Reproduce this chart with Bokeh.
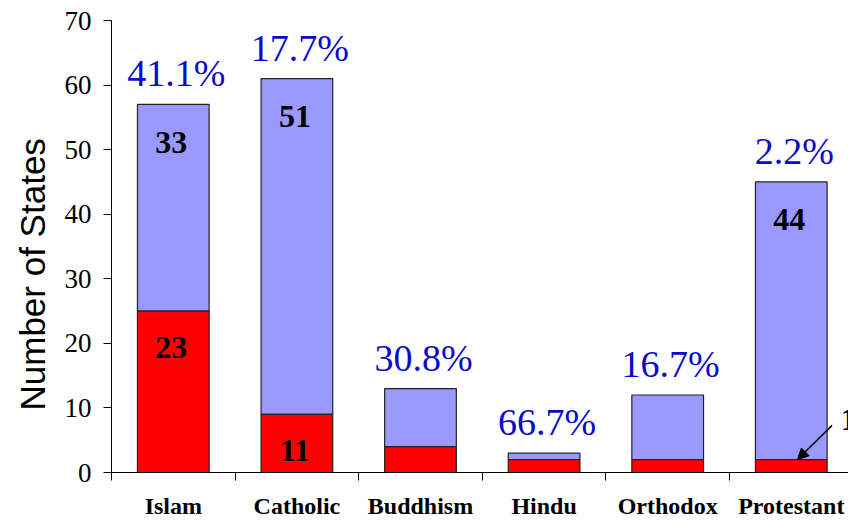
from bokeh.plotting import figure
from bokeh.models import (ColumnDataSource, FixedTicker, LinearAxis, Range1d,
                          Arrow, NormalHead, Title)
from bokeh.core.properties import value
from bokeh.embed import file_html
from bokeh.resources import INLINE

categories = ["Islam", "Catholic", "Buddhism", "Hindu", "Orthodox", "Protestant"]
red_vals = [25, 9, 4, 2, 2, 2]
total_vals = [57, 61, 13, 3, 12, 45]
pct_labels = ["41.1%", "17.7%", "30.8%", "66.7%", "16.7%", "2.2%"]
top_labels = ["33", "51", "", "", "", "44"]
red_labels = ["23", "11", "", "", "", ""]
callout_label = "1"
callout_index = 5
y_ticks = [0, 10, 20, 30, 40, 50, 60, 70]

n = len(categories)
centers = [i + 0.5 for i in range(n)]
src = ColumnDataSource(dict(
    x=centers, red=red_vals, total=total_vals, zero=[0] * n,
    pct=pct_labels, toplab=top_labels, redlab=red_labels,
))

p = figure(width=848, height=522, output_backend="svg", toolbar_location=None,
           x_range=Range1d(0, 5.963), y_range=Range1d(0, 70),
           x_axis_type=None, y_axis_type=None,
           min_border_left=111, min_border_top=20, min_border_bottom=50,
           min_border_right=0)
p.outline_line_color = None
p.xgrid.visible = False
p.ygrid.visible = False
p.background_fill_color = "white"
p.border_fill_color = "white"

serif = "Liberation Serif"

# y axis
yaxis = LinearAxis(ticker=FixedTicker(ticks=y_ticks, minor_ticks=[]))
yaxis.axis_line_color = "black"
yaxis.axis_line_width = 1
yaxis.major_tick_line_color = "black"
yaxis.major_tick_out = 8
yaxis.major_tick_in = 0
yaxis.minor_tick_line_color = None
yaxis.major_label_text_font = serif
yaxis.major_label_text_font_size = "27px"
yaxis.major_label_text_color = "black"
yaxis.major_label_standoff = 12
p.add_layout(yaxis, "left")

p.add_layout(Title(text="Number of States", align="left", offset=62,
                   text_font="Liberation Sans", text_font_size="35px",
                   text_font_style="normal", text_color="black", standoff=20), "left")

# x axis: labels at centers, ticks at boundaries (minor)
xaxis = LinearAxis(ticker=FixedTicker(ticks=centers, minor_ticks=list(range(n + 1))))
xaxis.major_label_overrides = {c: lab for c, lab in zip(centers, categories)}
xaxis.axis_line_color = "black"
xaxis.major_tick_line_color = None
xaxis.major_tick_out = 0
xaxis.major_tick_in = 0
xaxis.minor_tick_line_color = "black"
xaxis.minor_tick_out = 8
xaxis.minor_tick_in = 0
xaxis.major_label_text_font = serif
xaxis.major_label_text_font_style = "bold"
xaxis.major_label_text_font_size = "24px"
xaxis.major_label_text_color = "black"
xaxis.major_label_standoff = 12
p.add_layout(xaxis, "below")

bw = 0.58
p.vbar(x="x", bottom="red", top="total", width=bw, source=src,
       fill_color="#9999FF", line_color="#222222", line_width=1.2)
p.vbar(x="x", bottom="zero", top="red", width=bw, source=src,
       fill_color="#FF0000", line_color="#222222", line_width=1.2)

p.text(x="x", y="total", text="pct", source=src, text_align="center",
       text_baseline="middle", y_offset=-31, x_offset=3,
       text_font=value(serif), text_font_size="38px", text_color="#0A0ACC")
p.text(x="x", y="total", text="toplab", source=src, text_align="center",
       text_baseline="middle", y_offset=38, x_offset=-2,
       text_font=value(serif), text_font_style="bold", text_font_size="32px",
       text_color="black")
p.text(x="x", y="red", text="redlab", source=src, text_align="center",
       text_baseline="middle", y_offset=36, x_offset=-2,
       text_font=value(serif), text_font_style="bold", text_font_size="32px",
       text_color="black")

# callout for Protestant
ci = callout_index
cx = centers[ci]
cy = red_vals[ci]
p.add_layout(Arrow(end=NormalHead(size=11, fill_color="black", line_color="black"),
                   x_start=cx + 0.33, y_start=cy + 5.3, x_end=cx + 0.05, y_end=cy,
                   line_color="black", line_width=1.5))
p.text(x=[cx + 0.4], y=[cy + 6.2], text=[callout_label], text_align="left",
       text_baseline="middle", text_font=value(serif), text_font_style="bold",
       text_font_size="32px", text_color="black")

open("out.html", "w").write(file_html(p, INLINE))
